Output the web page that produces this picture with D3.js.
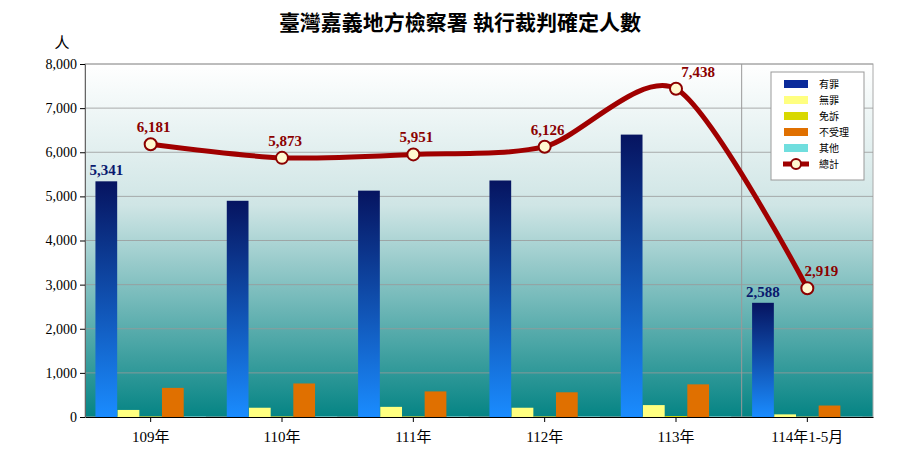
<!DOCTYPE html>
<html><head><meta charset="utf-8">
<script src="https://cdn.jsdelivr.net/npm/d3@7"></script>
<style>body{margin:0;background:#fff}text{font-family:"Liberation Serif","Noto Sans CJK TC",serif}</style>
</head><body><div id="chart"></div>
<script>
const categories = ['109年', '110年', '111年', '112年', '113年', '114年1-5月'];
const guilty = [5341, 4900, 5130, 5360, 6400, 2588];
const innocent = [160, 210, 230, 210, 270, 60];
const exempt = [10, 10, 10, 10, 20, 5];
const rejected = [660, 760, 580, 560, 740, 260];
const other = [10, 10, 10, 10, 10, 5];
const total = [6181, 5873, 5951, 6126, 7438, 2919];
const yTicks = [0, 1000, 2000, 3000, 4000, 5000, 6000, 7000, 8000];

const W = 900, H = 450, m = {l: 85, r: 27, t: 64, b: 33};
const svg = d3.select('#chart').append('svg').attr('width', W).attr('height', H);
const defs = svg.append('defs');
const bg = defs.append('linearGradient').attr('id', 'bg').attr('x1', 0).attr('y1', 0).attr('x2', 0).attr('y2', 1);
bg.append('stop').attr('offset', '0%').attr('stop-color', '#ffffff');
bg.append('stop').attr('offset', '40%').attr('stop-color', '#cfe5e5');
bg.append('stop').attr('offset', '100%').attr('stop-color', '#058484');
const bl = defs.append('linearGradient').attr('id', 'blue').attr('x1', 0).attr('y1', 0).attr('x2', 0).attr('y2', 1);
bl.append('stop').attr('offset', '0%').attr('stop-color', '#061460');
bl.append('stop').attr('offset', '100%').attr('stop-color', '#1a8cff');

const x = d3.scaleBand().domain(categories).range([m.l, W - m.r]);
const y = d3.scaleLinear().domain([0, 8000]).range([H - m.b, m.t]);
const series = [
  {name: '有罪', vals: guilty, color: 'url(#blue)', sw: '#0a2a9a'},
  {name: '無罪', vals: innocent, color: '#ffff80', sw: '#ffff80'},
  {name: '免訴', vals: exempt, color: '#d8d800', sw: '#d8d800'},
  {name: '不受理', vals: rejected, color: '#e07000', sw: '#e07000'},
  {name: '其他', vals: other, color: '#70dede', sw: '#70dede'}
];
const xs = d3.scaleBand().domain(d3.range(series.length)).range([10, x.bandwidth() - 10]).padding(0.02);

svg.append('rect').attr('x', m.l).attr('y', m.t).attr('width', W - m.l - m.r).attr('height', H - m.t - m.b).attr('fill', 'url(#bg)').attr('stroke', '#aaa');
svg.append('g').selectAll('line').data(yTicks.slice(1)).join('line')
  .attr('x1', m.l).attr('x2', W - m.r).attr('y1', d => y(d)).attr('y2', d => y(d)).attr('stroke', '#999').attr('stroke-width', 0.8);
svg.append('line').attr('x1', x(categories[5])).attr('x2', x(categories[5])).attr('y1', m.t).attr('y2', H - m.b).attr('stroke', '#999');

series.forEach((s, si) => {
  svg.append('g').selectAll('rect').data(s.vals).join('rect')
    .attr('x', (d, i) => x(categories[i]) + xs(si)).attr('width', xs.bandwidth())
    .attr('y', d => y(d)).attr('height', d => y(0) - y(d)).attr('fill', s.color);
});

svg.append('g').attr('transform', `translate(0,${H - m.b})`)
  .call(d3.axisBottom(x).tickSize(5).tickSizeOuter(0))
  .call(g => g.selectAll('text').attr('font-size', 15).attr('dy', '1.1em').attr('fill', '#000'));
svg.append('g').attr('transform', `translate(${m.l},0)`)
  .call(d3.axisLeft(y).tickValues(yTicks).tickFormat(d3.format(',')).tickSize(5))
  .call(g => g.selectAll('text').attr('font-size', 14).attr('fill', '#000'))
  .call(g => g.select('.domain').attr('stroke', '#666'));

const cx = (d, i) => x(categories[i]) + x.bandwidth() / 2;
const line = d3.line().x(cx).y(d => y(d)).curve(d3.curveCardinal.tension(0.2));
svg.append('path').datum(total).attr('d', line).attr('fill', 'none').attr('stroke', '#a00000').attr('stroke-width', 5);
svg.append('g').selectAll('circle').data(total).join('circle')
  .attr('cx', cx).attr('cy', d => y(d)).attr('r', 6).attr('fill', '#fff8d0').attr('stroke', '#8b0000').attr('stroke-width', 2);
// labels sit a little right of the marker where the curve is steep
const labelShift = [3, 3, 3, 3, 22, 14];
svg.append('g').selectAll('text').data(total).join('text')
  .attr('x', (d, i) => cx(d, i) + labelShift[i]).attr('y', d => y(d) - 12).attr('text-anchor', 'middle')
  .attr('font-size', 15).attr('font-weight', 'bold').attr('fill', '#8b0000').text(d3.format(','));
[0, 5].forEach(i => {
  svg.append('text').attr('x', x(categories[i]) + xs(0) + xs.bandwidth() / 2).attr('y', y(guilty[i]) - 6)
    .attr('text-anchor', 'middle').attr('font-size', 15).attr('font-weight', 'bold').attr('fill', '#0a1a6e').text(d3.format(',')(guilty[i]));
});

svg.append('text').attr('x', 460).attr('y', 30).attr('text-anchor', 'middle').attr('font-size', 21).attr('font-weight', 'bold').text('臺灣嘉義地方檢察署  執行裁判確定人數');
svg.append('text').attr('x', 62).attr('y', 48).attr('text-anchor', 'middle').attr('font-size', 15).text('人');

const lg = svg.append('g').attr('transform', 'translate(771,72)');
lg.append('rect').attr('width', 93).attr('height', 108).attr('fill', '#fff').attr('stroke', '#999');
series.forEach((s, i) => {
  lg.append('rect').attr('x', 13).attr('y', 8 + i * 16).attr('width', 24).attr('height', 8).attr('fill', s.sw);
  lg.append('text').attr('x', 48).attr('y', 16 + i * 16).attr('font-size', 10).text(s.name);
});
lg.append('line').attr('x1', 12).attr('x2', 38).attr('y1', 92).attr('y2', 92).attr('stroke', '#a00000').attr('stroke-width', 5);
lg.append('circle').attr('cx', 25).attr('cy', 92).attr('r', 5).attr('fill', '#fff8d0').attr('stroke', '#8b0000').attr('stroke-width', 2);
lg.append('text').attr('x', 48).attr('y', 96).attr('font-size', 10).text('總計');
</script></body></html>
